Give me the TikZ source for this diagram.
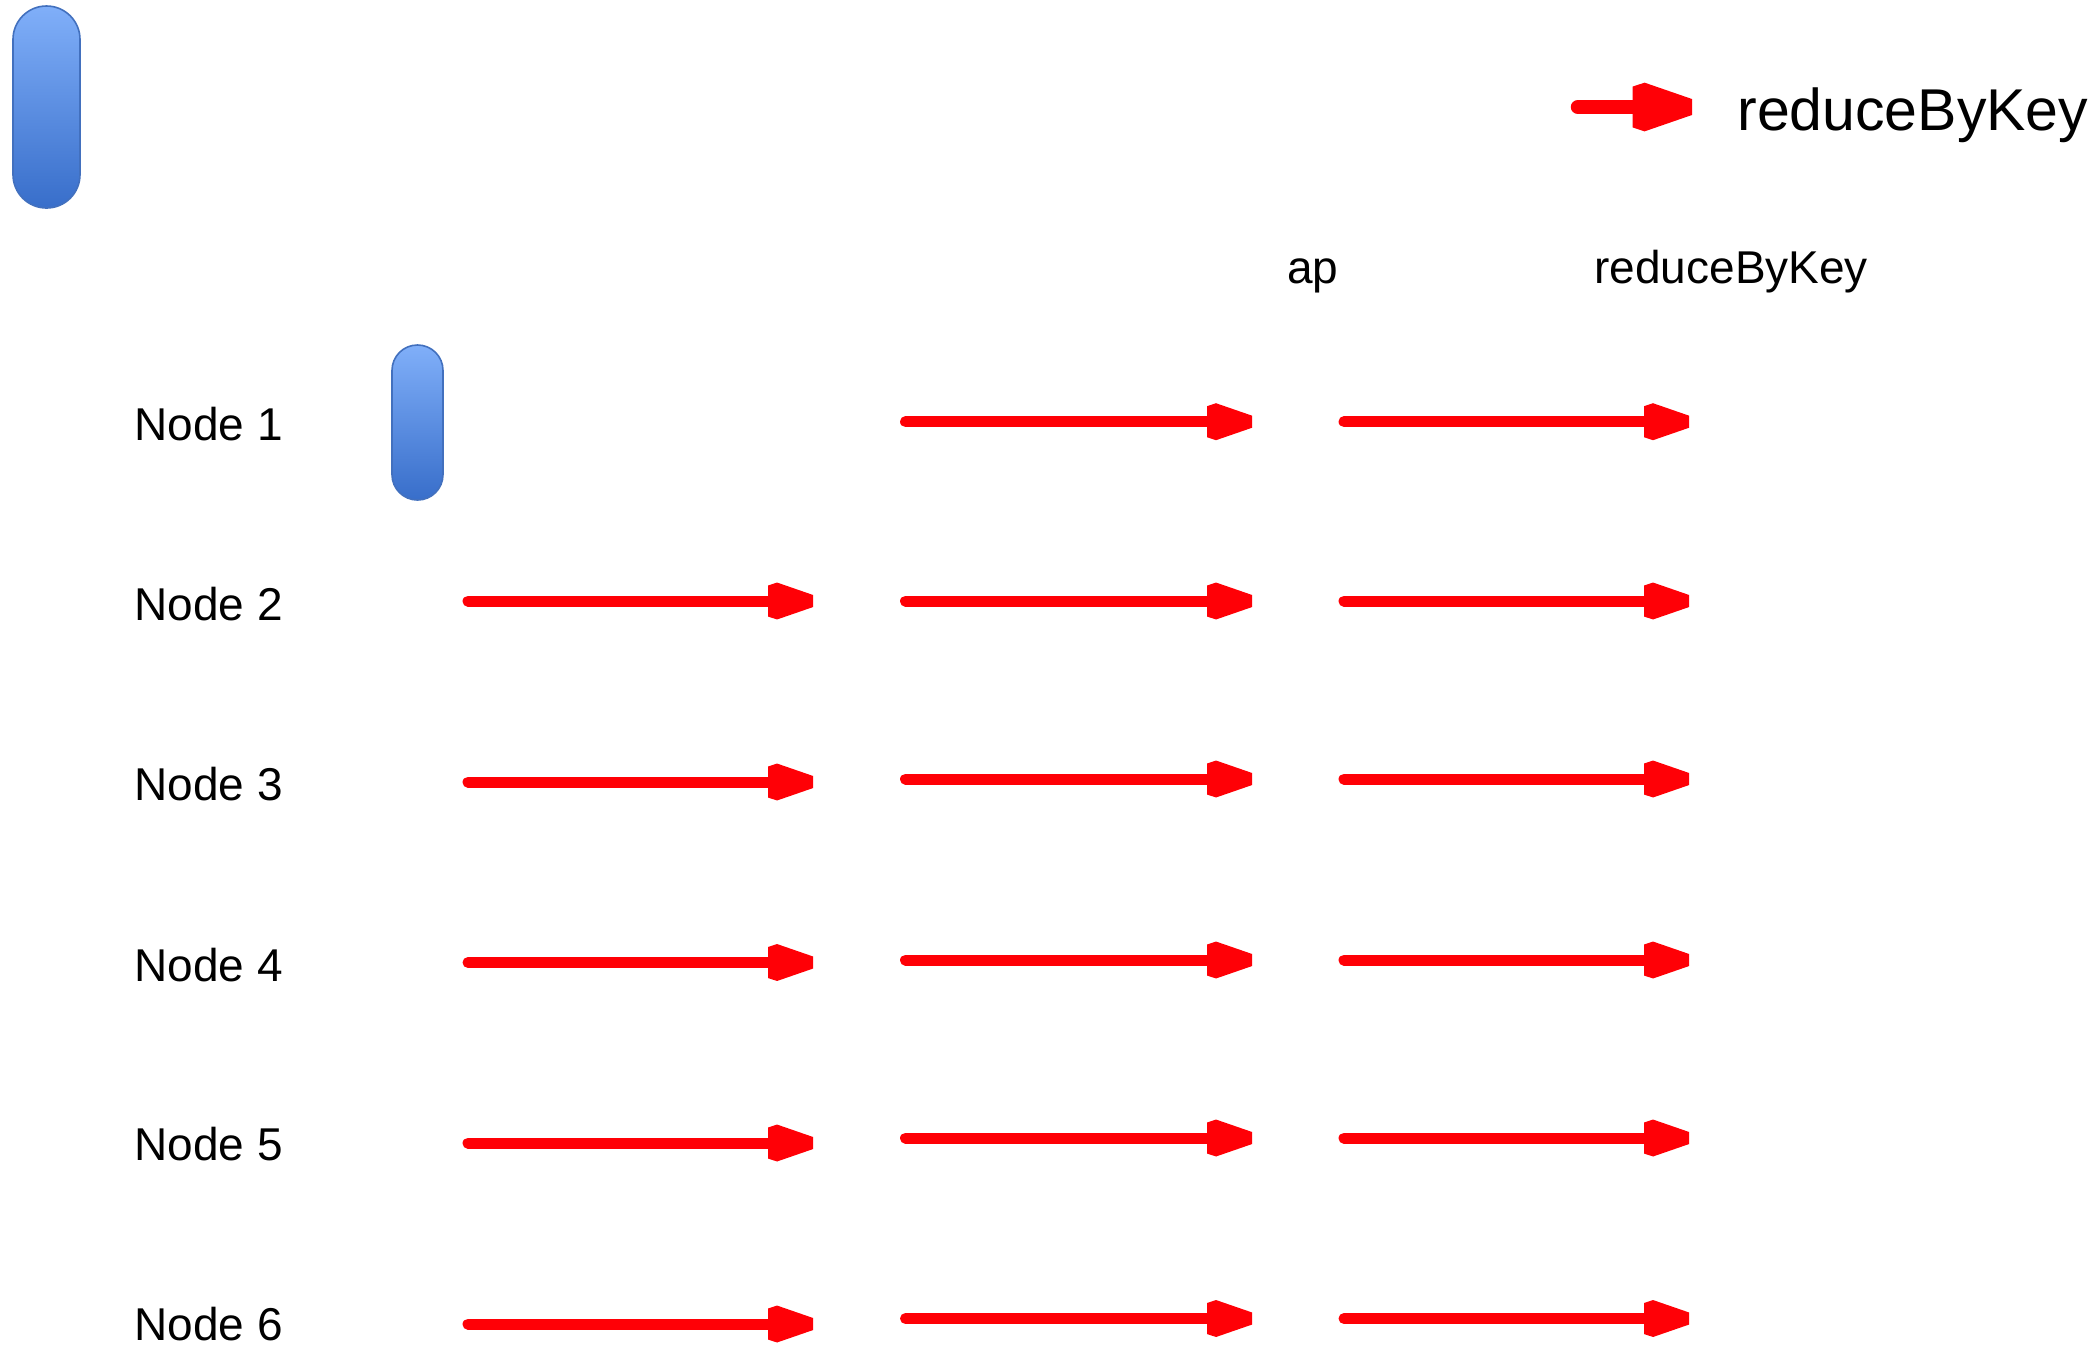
\documentclass[tikz,border=0pt]{standalone}
\usepackage{fontspec}
\setmainfont{Liberation Sans}
\usetikzlibrary{arrows.meta}

% Block arrow head with bevelled back corners, sized from the line width
\pgfdeclarearrow{
  name = BevelHead,
  parameters = {\the\pgflinewidth},
  setup code = {
    \pgfarrowssettipend{0pt}
    \pgfarrowssetlineend{-3.4\pgflinewidth}
    \pgfarrowssetbackend{-4.09\pgflinewidth}
    \pgfarrowssetvisualbackend{-4.09\pgflinewidth}
    \pgfarrowshullpoint{0pt}{0.55\pgflinewidth}
    \pgfarrowshullpoint{0pt}{-0.55\pgflinewidth}
    \pgfarrowshullpoint{-3.27\pgflinewidth}{1.68\pgflinewidth}
    \pgfarrowshullpoint{-3.27\pgflinewidth}{-1.68\pgflinewidth}
    \pgfarrowshullpoint{-4.09\pgflinewidth}{1.41\pgflinewidth}
    \pgfarrowshullpoint{-4.09\pgflinewidth}{-1.41\pgflinewidth}
  },
  drawing code = {
    \pgfpathmoveto{\pgfqpoint{0pt}{0.55\pgflinewidth}}
    \pgfpathlineto{\pgfqpoint{-3.27\pgflinewidth}{1.68\pgflinewidth}}
    \pgfpathlineto{\pgfqpoint{-4.09\pgflinewidth}{1.41\pgflinewidth}}
    \pgfpathlineto{\pgfqpoint{-4.09\pgflinewidth}{-1.41\pgflinewidth}}
    \pgfpathlineto{\pgfqpoint{-3.27\pgflinewidth}{-1.68\pgflinewidth}}
    \pgfpathlineto{\pgfqpoint{0pt}{-0.55\pgflinewidth}}
    \pgfpathclose
    \pgfusepathqfill
  },
}

\definecolor{flowred}{RGB}{255,0,6}
\definecolor{capTop}{RGB}{128,175,249}
\definecolor{capBot}{RGB}{56,110,202}
\definecolor{capEdge}{RGB}{66,112,190}

\tikzset{
  flow/.style={draw=flowred, line width=5.5pt, line cap=round, -{BevelHead}},
  legendflow/.style={flow, line width=7.25pt},
  capsule/.style={draw=capEdge, line width=0.8pt, top color=capTop, bottom color=capBot,
                  inner sep=0pt},
  rowlabel/.style={anchor=base west, inner sep=0pt, font=\fontsize{23}{27}\selectfont},
  headlabel/.style={anchor=base west, inner sep=0pt, font=\fontsize{23}{27}\selectfont},
  legendlabel/.style={anchor=base west, inner sep=0pt, font=\fontsize{29.5}{35}\selectfont},
}

\begin{document}
\begin{tikzpicture}[x=0.5pt, y=-0.5pt]
\path[use as bounding box] (0,0) rectangle (2099,1346);

% legend
\node[capsule, minimum width=33.5pt, minimum height=101pt, rounded corners=16.7pt]
  (bigcap) at (46.5,107) {};
\coordinate (legs) at (1578,107);
\coordinate (lege) at (1692,107);
\draw[legendflow] (legs) -- (lege);
\node[legendlabel] (legtext) at (1737,130) {reduceByKey};

% column headings
\node[headlabel] (hmap) at (1287,283) {ap};
\node[headlabel] (hreduce) at (1594,283) {reduceByKey};

% node names
\foreach \r/\yb in {1/440, 2/620, 3/800.5, 4/981, 5/1160.5, 6/1340}
  \node[rowlabel] (lab\r) at (134,\yb) {Node \r};

% small capsule beside Node 1
\node[capsule, minimum width=25.5pt, minimum height=77.5pt, rounded corners=12.7pt]
  (smallcap) at (417.5,422.5) {};

% first row: only the last two stages
\coordinate (b1s) at (905.5,421.7);  \coordinate (b1e) at (1252,421.7);
\coordinate (c1s) at (1344,421.7);   \coordinate (c1e) at (1689,421.7);
\draw[flow] (b1s) -- (b1e);
\draw[flow] (c1s) -- (c1e);

% remaining rows: three stages each
\foreach \r/\ya/\yb in {2/601/601, 3/782/779, 4/962.5/960, 5/1143/1138, 6/1324/1318.5}{
  \coordinate (a\r s) at (468,\ya);    \coordinate (a\r e) at (813,\ya);
  \coordinate (b\r s) at (905.5,\yb);  \coordinate (b\r e) at (1252,\yb);
  \coordinate (c\r s) at (1344,\yb);   \coordinate (c\r e) at (1689,\yb);
  \draw[flow] (a\r s) -- (a\r e);
  \draw[flow] (b\r s) -- (b\r e);
  \draw[flow] (c\r s) -- (c\r e);
}
\end{tikzpicture}
\end{document}
